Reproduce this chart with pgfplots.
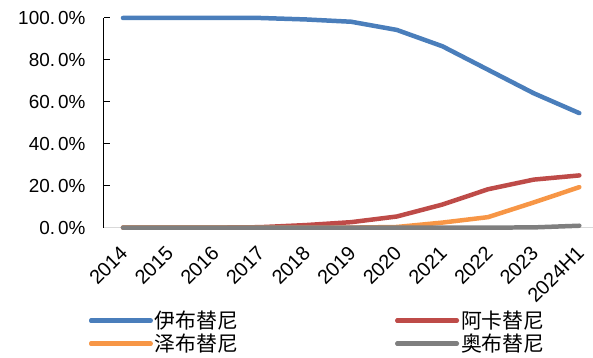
\documentclass[border=0pt]{standalone}
\usepackage{fontspec}
\setmainfont{Liberation Sans}
\newfontfamily\cjk{Noto Sans CJK SC}
\usepackage{pgfplots}
\pgfplotsset{compat=1.18}
\usetikzlibrary{calc}
\definecolor{cblue}{HTML}{4A7EBB}
\definecolor{cred}{HTML}{BE4B48}
\definecolor{corange}{HTML}{F79646}
\definecolor{cgray}{HTML}{7F7F7F}
\begin{document}
\begin{tikzpicture}
\begin{axis}[name=ax, scale only axis, width=490bp, height=210bp,
  xmin=-0.42, xmax=10.3, ymin=0, ymax=100,
  axis x line=bottom, axis y line=left,
  x axis line style={-, draw=black!15, line width=1.5bp},
  y axis line style={-, draw=black, line width=1bp},
  xtick={0,...,10},
  xticklabels={2014,2015,2016,2017,2018,2019,2020,2021,2022,2023,2024H1},
  x tick style={draw=none},
  xticklabel style={font=\fontsize{20}{20}\selectfont, inner sep=0pt, xshift=-4bp, yshift=-17bp, rotate=45, anchor=north east},
  ytick={0,20,...,100},
  yticklabels={0.\hspace{3bp}0\%,20.\hspace{3bp}0\%,40.\hspace{3bp}0\%,60.\hspace{3bp}0\%,80.\hspace{3bp}0\%,100.\hspace{3bp}0\%},
  yticklabel style={font=\fontsize{19}{19}\selectfont, xshift=-15bp},
  y tick style={draw=black, line width=1bp},
  tick align=inside, major tick length=6bp,
  clip=false,
  legend columns=2,
  legend cell align=left,
  legend style={draw=none, fill=none, at={(-0.0306,-0.388)}, anchor=north west,
    font=\cjk\fontsize{21}{21}\selectfont, inner sep=0pt, row sep=0bp,
    /tikz/every even column/.append style={column sep=155bp}},
  legend image code/.code={\draw[#1, line cap=round] (0bp,0bp) -- (52bp,0bp); \path (0bp,0bp) -- (59.5bp,0bp);},
  every axis plot/.append style={line width=4.5bp, line cap=round, line join=round, no markers},
]
\addplot[cblue] coordinates {(0,100)(1,100)(2,100)(3,100)(4,99.3)(5,98.2)(6,94.3)(7,86.5)(8,75.3)(9,64.1)(10,54.6)};
\addlegendentry{伊布替尼}
\addplot[cred] coordinates {(0,0)(1,0)(2,0)(3,0.2)(4,1.2)(5,2.6)(6,5.3)(7,11)(8,18.3)(9,22.9)(10,24.9)};
\addlegendentry{阿卡替尼}
\addplot[corange] coordinates {(0,0)(1,0)(2,0)(3,0)(4,0)(5,0)(6,0.3)(7,2.4)(8,5)(9,12)(10,19.3)};
\addlegendentry{泽布替尼}
\addplot[cgray] coordinates {(0,0)(1,0)(2,0)(3,0)(4,0)(5,0)(6,0)(7,0)(8,0)(9,0.1)(10,0.9)};
\addlegendentry{奥布替尼}
\end{axis}
\pgfresetboundingbox
\path[use as bounding box] ($(ax.south west)+(-104bp,-130bp)$) rectangle ($(ax.north east)+(0bp,18bp)$);
\end{tikzpicture}
\end{document}
